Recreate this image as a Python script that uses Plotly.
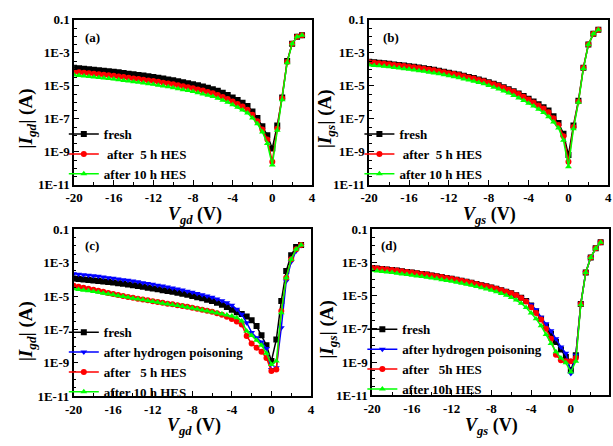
import plotly.graph_objects as go

# ---------------- data ----------------
V = [-20, -19.5, -19, -18.5, -18, -17.5, -17, -16.5, -16, -15.5, -15, -14.5, -14, -13.5,
     -13, -12.5, -12, -11.5, -11, -10.5, -10, -9.5, -9, -8.5, -8, -7.5, -7, -6.5, -6, -5.5,
     -5, -4.5, -4, -3.5, -3, -2.5, -2, -1.5, -1, -0.5, 0, 0.5, 1, 1.5, 2, 2.5, 3]

# log10 of |I| (A)
a_fresh = [-3.90,-3.93,-3.96,-3.99,-4.02,-4.05,-4.08,-4.11,-4.14,-4.18,-4.22,-4.26,-4.30,-4.34,-4.38,-4.42,-4.46,-4.51,-4.56,-4.61,-4.66,-4.72,-4.78,-4.84,-4.90,-4.97,-5.04,-5.12,-5.20,-5.30,-5.42,-5.55,-5.70,-5.86,-6.02,-6.22,-6.55,-6.95,-7.45,-8.00,-8.80,-7.40,-5.70,-3.50,-2.45,-2.02,-1.94]
a_5h    = [-4.15,-4.18,-4.21,-4.24,-4.27,-4.30,-4.33,-4.36,-4.39,-4.43,-4.47,-4.51,-4.55,-4.59,-4.63,-4.67,-4.71,-4.76,-4.81,-4.86,-4.91,-4.97,-5.03,-5.09,-5.15,-5.22,-5.29,-5.37,-5.45,-5.55,-5.67,-5.80,-5.95,-6.10,-6.26,-6.45,-6.75,-7.15,-7.65,-8.25,-9.60,-7.60,-5.75,-3.55,-2.45,-2.02,-1.94]
a_10h   = [-4.35,-4.38,-4.41,-4.44,-4.47,-4.50,-4.53,-4.56,-4.59,-4.63,-4.67,-4.71,-4.75,-4.79,-4.83,-4.87,-4.91,-4.96,-5.01,-5.06,-5.11,-5.17,-5.23,-5.29,-5.35,-5.42,-5.49,-5.57,-5.65,-5.75,-5.87,-6.00,-6.15,-6.30,-6.46,-6.65,-6.95,-7.30,-7.80,-8.50,-9.80,-7.70,-5.85,-3.60,-2.45,-2.02,-1.94]

b_fresh = [-3.54,-3.57,-3.60,-3.63,-3.66,-3.70,-3.73,-3.77,-3.81,-3.85,-3.89,-3.93,-3.98,-4.03,-4.08,-4.14,-4.20,-4.26,-4.32,-4.39,-4.46,-4.53,-4.61,-4.69,-4.78,-4.87,-4.97,-5.08,-5.20,-5.33,-5.47,-5.62,-5.78,-5.95,-6.12,-6.30,-6.50,-6.85,-7.25,-7.90,-9.20,-7.40,-5.90,-3.90,-2.50,-1.85,-1.60]
b_5h    = [-3.57,-3.60,-3.63,-3.66,-3.69,-3.73,-3.76,-3.80,-3.84,-3.88,-3.92,-3.96,-4.01,-4.06,-4.11,-4.17,-4.23,-4.29,-4.35,-4.42,-4.49,-4.56,-4.64,-4.72,-4.81,-4.90,-5.00,-5.11,-5.23,-5.36,-5.50,-5.66,-5.83,-6.01,-6.19,-6.38,-6.60,-6.97,-7.38,-8.05,-9.60,-7.50,-5.95,-3.90,-2.50,-1.85,-1.60]
b_10h   = [-3.73,-3.76,-3.79,-3.82,-3.85,-3.89,-3.92,-3.96,-4.00,-4.04,-4.08,-4.12,-4.17,-4.22,-4.27,-4.33,-4.39,-4.45,-4.51,-4.58,-4.65,-4.72,-4.80,-4.88,-4.98,-5.08,-5.19,-5.31,-5.44,-5.58,-5.73,-5.89,-6.05,-6.23,-6.42,-6.62,-6.88,-7.20,-7.55,-8.30,-9.90,-7.60,-6.00,-3.95,-2.50,-1.85,-1.60]

c_fresh = [-3.95,-3.98,-4.01,-4.04,-4.07,-4.10,-4.13,-4.16,-4.19,-4.23,-4.27,-4.31,-4.35,-4.40,-4.45,-4.50,-4.55,-4.60,-4.65,-4.70,-4.75,-4.81,-4.87,-4.93,-5.00,-5.07,-5.14,-5.22,-5.30,-5.40,-5.52,-5.66,-5.82,-5.97,-6.08,-6.22,-6.45,-6.80,-7.35,-7.95,-8.90,-7.60,-5.30,-3.50,-2.55,-2.06,-1.94]
c_hp    = [-3.66,-3.69,-3.72,-3.75,-3.78,-3.82,-3.86,-3.90,-3.94,-3.98,-4.02,-4.06,-4.10,-4.15,-4.20,-4.25,-4.30,-4.35,-4.40,-4.46,-4.52,-4.58,-4.64,-4.71,-4.78,-4.85,-4.92,-5.00,-5.08,-5.18,-5.29,-5.41,-5.55,-5.80,-6.10,-6.60,-7.18,-7.50,-7.76,-8.14,-9.40,-9.30,-6.90,-4.10,-2.95,-2.30,-1.97]
c_5h    = [-4.38,-4.44,-4.50,-4.56,-4.62,-4.69,-4.75,-4.82,-4.88,-4.94,-5.00,-5.06,-5.11,-5.16,-5.21,-5.26,-5.31,-5.36,-5.41,-5.46,-5.50,-5.55,-5.60,-5.65,-5.70,-5.76,-5.82,-5.88,-5.95,-6.03,-6.12,-6.24,-6.38,-6.52,-6.70,-7.40,-7.85,-8.10,-8.34,-8.72,-9.50,-9.40,-5.90,-3.90,-2.80,-2.20,-1.95]
c_10h   = [-4.57,-4.61,-4.65,-4.69,-4.73,-4.78,-4.83,-4.88,-4.93,-4.98,-5.03,-5.08,-5.13,-5.18,-5.23,-5.28,-5.33,-5.38,-5.43,-5.48,-5.52,-5.57,-5.62,-5.67,-5.72,-5.78,-5.84,-5.90,-5.96,-6.02,-6.08,-6.14,-6.20,-6.30,-6.50,-7.10,-7.37,-7.65,-7.95,-8.43,-9.10,-8.90,-6.00,-3.90,-2.80,-2.20,-1.95]

d_fresh = [-3.33,-3.36,-3.39,-3.42,-3.45,-3.49,-3.53,-3.57,-3.61,-3.65,-3.69,-3.73,-3.78,-3.83,-3.88,-3.93,-3.99,-4.05,-4.11,-4.17,-4.23,-4.30,-4.37,-4.44,-4.51,-4.59,-4.67,-4.76,-4.86,-4.98,-5.13,-5.32,-5.60,-5.95,-6.40,-6.85,-7.30,-7.80,-8.25,-8.70,-9.50,-8.60,-5.50,-3.60,-2.70,-2.15,-1.78]
d_hp    = [-3.35,-3.38,-3.41,-3.44,-3.47,-3.51,-3.55,-3.59,-3.63,-3.67,-3.71,-3.75,-3.80,-3.85,-3.90,-3.95,-4.01,-4.07,-4.13,-4.19,-4.25,-4.31,-4.38,-4.45,-4.52,-4.60,-4.68,-4.77,-4.87,-4.98,-5.12,-5.30,-5.55,-5.85,-6.30,-6.70,-7.12,-7.60,-8.09,-8.47,-9.70,-8.60,-5.50,-3.60,-2.70,-2.15,-1.78]
d_5h    = [-3.33,-3.36,-3.39,-3.42,-3.45,-3.49,-3.53,-3.57,-3.61,-3.65,-3.69,-3.73,-3.78,-3.83,-3.88,-3.93,-3.99,-4.05,-4.11,-4.17,-4.23,-4.30,-4.37,-4.44,-4.51,-4.59,-4.67,-4.76,-4.86,-4.98,-5.14,-5.35,-5.70,-6.05,-6.44,-7.00,-7.60,-8.57,-8.90,-8.96,-8.96,-8.76,-5.50,-3.60,-2.70,-2.15,-1.78]
d_10h   = [-3.49,-3.52,-3.55,-3.58,-3.61,-3.65,-3.69,-3.73,-3.77,-3.81,-3.85,-3.89,-3.94,-3.99,-4.04,-4.09,-4.14,-4.20,-4.26,-4.32,-4.38,-4.45,-4.52,-4.60,-4.68,-4.77,-4.87,-4.98,-5.11,-5.27,-5.46,-5.72,-6.05,-6.40,-6.82,-7.35,-7.89,-8.38,-8.76,-9.05,-9.60,-8.96,-5.55,-3.60,-2.70,-2.15,-1.78]

X_TICKS = [-20, -16, -12, -8, -4, 0, 4]
X_TICK_LABELS = ["-20", "-16", "-12", "-8", "-4", "0", "4"]
X_MINOR = [-18, -14, -10, -6, -2, 2]
Y_TICKS = [1e-11, 1e-9, 1e-7, 1e-5, 1e-3, 0.1]
Y_TICK_LABELS = ["1E-11", "1E-9", "1E-7", "1E-5", "1E-3", "0.1"]
Y_MINOR_EXP = [-10.5, -10, -9.5, -8.5, -8, -7.5, -6.5, -6, -5.5, -4.5, -4, -3.5, -2.5, -2, -1.5]

NB = "\u00a0"
LBL_FRESH = "fresh"
LBL_HP = "after hydrogen poisoning"
LBL_5H_AB = NB + "after" + NB * 2 + "5 h HES"
LBL_10H_AB = "after 10 h HES"
LBL_5H_C = "after" + NB * 3 + "5 h HES"
LBL_10H_C = "after 10 h HES"
LBL_5H_D = "after" + NB * 3 + "5h HES"
LBL_10H_D = "after 10h HES"

STYLE = {
    "fresh": dict(color="#000000", symbol="square"),
    "hp": dict(color="#0000ff", symbol="triangle-down"),
    "5h": dict(color="#ff0000", symbol="circle"),
    "10h": dict(color="#00ff00", symbol="triangle-up"),
}

FONT = "Liberation Serif"
W, H = 613, 446

fig = go.Figure()

panels = [
    ("a", "x", "y", "legend", [("fresh", a_fresh, LBL_FRESH), ("5h", a_5h, LBL_5H_AB), ("10h", a_10h, LBL_10H_AB)]),
    ("b", "x2", "y2", "legend2", [("fresh", b_fresh, LBL_FRESH), ("5h", b_5h, LBL_5H_AB), ("10h", b_10h, LBL_10H_AB)]),
    ("c", "x3", "y3", "legend3", [("fresh", c_fresh, LBL_FRESH), ("hp", c_hp, LBL_HP), ("5h", c_5h, LBL_5H_C), ("10h", c_10h, LBL_10H_C)]),
    ("d", "x4", "y4", "legend4", [("fresh", d_fresh, LBL_FRESH), ("hp", d_hp, LBL_HP), ("5h", d_5h, LBL_5H_D), ("10h", d_10h, LBL_10H_D)]),
]

for key, xa, ya, lg, series in panels:
    for skey, vals, name in series:
        st = STYLE[skey]
        fig.add_trace(go.Scatter(
            x=V, y=[10 ** v for v in vals], name=name, mode="lines+markers",
            xaxis=xa, yaxis=ya, legend=lg,
            line=dict(color=st["color"], width=1.5),
            marker=dict(color=st["color"], symbol=st["symbol"], size=6, line=dict(width=0)),
        ))

# pixel geometry of plot areas: (left, right, top, bottom) in px, x range
geo = {
    "a": (66.5, 309.5, 13.3, 184.0, [-20, 4]),
    "b": (368.0, 612.3, 13.3, 184.0, [-20, 4]),
    "c": (66.0, 308.5, 230.0, 402.7, [-20, 4]),
    "d": (371.0, 613.0, 230.0, 401.7, [-20, 3.84]),
}
axnames = {"a": ("xaxis", "yaxis", "x", "y"), "b": ("xaxis2", "yaxis2", "x2", "y2"),
           "c": ("xaxis3", "yaxis3", "x3", "y3"), "d": ("xaxis4", "yaxis4", "x4", "y4")}

tickfont = dict(family=FONT, size=13, color="black", weight="bold")
layout_axes = {}
for k, (l, r, t, b, xr) in geo.items():
    xn, yn, xid, yid = axnames[k]
    layout_axes[xn] = dict(
        domain=[l / W, min(r / W, 1.0)], range=xr, anchor=yid,
        tickvals=X_TICKS, ticktext=X_TICK_LABELS, ticks="inside", ticklen=5, tickwidth=1.2,
        tickcolor="black",
        minor=dict(tickvals=X_MINOR, ticks="inside", ticklen=3, tickwidth=1.2, tickcolor="black"),
        showline=True, mirror=True, linecolor="black", linewidth=1.5,
        showgrid=False, zeroline=False, tickfont=tickfont,
    )
    layout_axes[yn] = dict(
        domain=[1 - b / H, 1 - t / H], type="log", range=[-11, -1], anchor=xid,
        tickvals=Y_TICKS, ticktext=Y_TICK_LABELS, ticks="inside", ticklen=5, tickwidth=1.2,
        tickcolor="black",
        minor=dict(tickvals=[10 ** e for e in Y_MINOR_EXP], ticks="inside", ticklen=3, tickwidth=1.2,
                   tickcolor="black"),
        showline=True, mirror=True, linecolor="black", linewidth=1.5,
        showgrid=False, zeroline=False, tickfont=tickfont,
    )

legfont = dict(family=FONT, size=13, color="black", weight="bold")
def leg(xpx, ypx):
    return dict(x=xpx / W, y=1 - ypx / H, xref="paper", yref="paper", xanchor="left", yanchor="top",
                bgcolor="rgba(0,0,0,0)", font=legfont, itemwidth=30, tracegroupgap=0,
                borderwidth=0)

annotations = []
def ann(text, xpx, ypx, size=13, angle=0):
    annotations.append(dict(text=text, x=xpx / W, y=1 - ypx / H, xref="paper", yref="paper",
                            showarrow=False, textangle=angle, xanchor="center", yanchor="middle",
                            font=dict(family=FONT, size=size, color="black", weight="bold")))

ann("(a)", 85, 32)
ann("(b)", 390, 32)
ann("(c)", 85, 247)
ann("(d)", 388, 247)
ann("<i>V<sub>gd</sub></i> (V)", 190, 216, size=18)
ann("<i>V<sub>gs</sub></i> (V)", 491, 216, size=18)
ann("<i>V<sub>gd</sub></i> (V)", 189, 434, size=18)
ann("<i>V<sub>gs</sub></i> (V)", 493, 434, size=18)
ann("|<i>I<sub>gd</sub></i>| (A)", 18, 116, size=19, angle=-90)
ann("|<i>I<sub>gs</sub></i>| (A)", 324, 116, size=19, angle=-90)
ann("|<i>I<sub>gd</sub></i>| (A)", 18, 336, size=19, angle=-90)
ann("|<i>I<sub>gs</sub></i>| (A)", 326, 334, size=19, angle=-90)

fig.update_layout(
    width=W, height=H, margin=dict(l=0, r=0, t=0, b=0),
    paper_bgcolor="white", plot_bgcolor="white",
    legend=leg(56, 116), legend2=leg(358, 116), legend3=leg(56, 321), legend4=leg(361, 318),
    annotations=annotations,
    **layout_axes,
)

fig.write_html(
    "out.html",
    config={"displayModeBar": False},
    post_script="document.body.style.margin='0';document.body.style.overflow='hidden';",
)
